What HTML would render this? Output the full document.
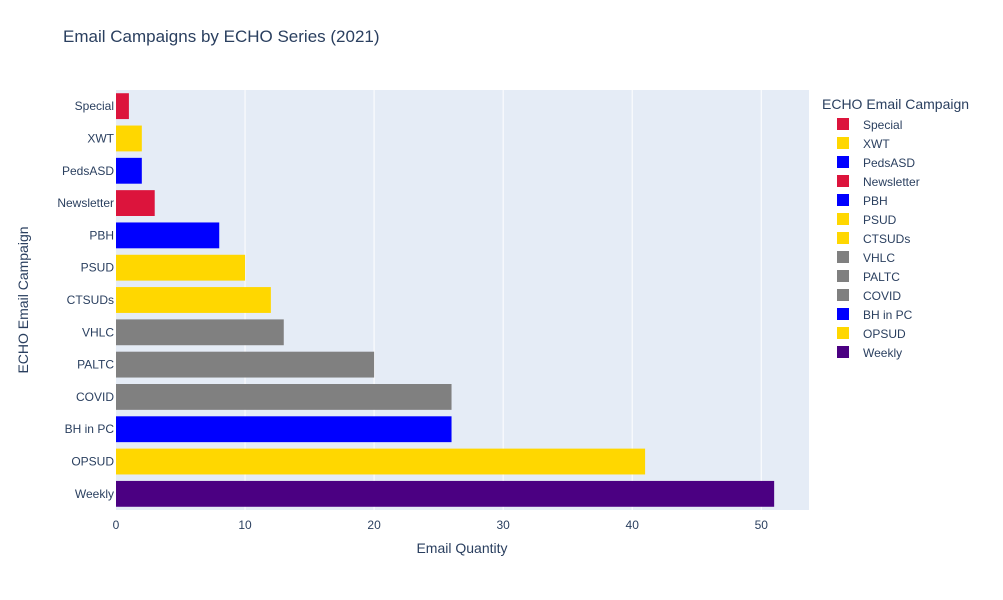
<!DOCTYPE html>
<html><head><meta charset="utf-8"><style>
body{margin:0;background:#fff;font-family:"Liberation Sans",Arial,sans-serif;}
svg text{font-family:"Liberation Sans",Arial,sans-serif;fill:#2a3f5f;}
</style></head><body>
<svg id="chart" width="1003" height="595" xmlns="http://www.w3.org/2000/svg">
<rect width="1003" height="595" fill="#fff"/>
<text x="63" y="42" font-size="17">Email Campaigns by ECHO Series (2021)</text>
<rect x="116" y="90" width="693" height="420" fill="#e5ecf6"/>
<g id="grid"></g><g id="bars"></g><g id="xticks"></g><g id="yticks"></g>
<text x="462" y="553" font-size="14" text-anchor="middle">Email Quantity</text>
<text transform="translate(28,300) rotate(-90)" font-size="14" text-anchor="middle">ECHO Email Campaign</text>
<text x="822" y="109" font-size="14">ECHO Email Campaign</text>
<g id="legend"></g>
</svg>
<script>
const categories=["Special","XWT","PedsASD","Newsletter","PBH","PSUD","CTSUDs","VHLC","PALTC","COVID","BH in PC","OPSUD","Weekly"];
const values=[1,2,2,3,8,10,12,13,20,26,26,41,51];
const colors=["#DC143C","#FFD700","#0000FF","#DC143C","#0000FF","#FFD700","#FFD700","#808080","#808080","#808080","#0000FF","#FFD700","#4B0082"];
const xTicks=[0,10,20,30,40,50];
const NS="http://www.w3.org/2000/svg";
const x0=116,x1=809,xMax=53.7,y0=90,y1=510;
const xs=v=>x0+v/xMax*(x1-x0);
const band=(y1-y0)/categories.length;
const ys=i=>y0+band*i;
function mk(t,a,p){const e=document.createElementNS(NS,t);for(const k in a)e.setAttribute(k,a[k]);document.getElementById(p).appendChild(e);return e;}
xTicks.forEach(t=>{
 if(t>0){const g=mk("line",{x1:xs(t),x2:xs(t),y1:y0,y2:y1,stroke:"#fff","stroke-width":1},"grid");
 
 }
 const tx=mk("text",{x:xs(t),y:y1+19,"font-size":12,"text-anchor":"middle"},"xticks");tx.textContent=t;
 
 
});
categories.forEach((c,i)=>{
 const b=mk("rect",{x:x0,y:ys(i)+band*0.1,width:xs(values[i])-x0,height:band*0.8,fill:colors[i]},"bars");
 
 
 const t=mk("text",{x:x0-2,y:ys(i)+band/2+4,"font-size":12,"text-anchor":"end"},"yticks");t.textContent=c;
 
 
 const ly=124+i*19;
 const s=mk("rect",{x:837,y:ly-6,width:12,height:12,fill:colors[i]},"legend");
 
 
 const lt=mk("text",{x:863,y:ly+5,"font-size":12},"legend");lt.textContent=c;
 
 
});
</script>
</body></html>
